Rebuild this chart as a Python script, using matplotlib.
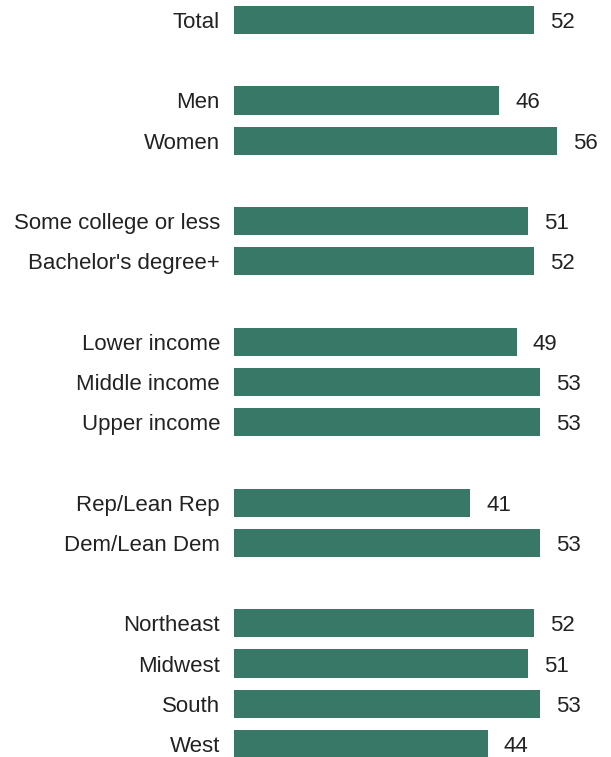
import matplotlib
matplotlib.use("Agg")
import matplotlib.pyplot as plt

categories = ["Total", "Men", "Women", "Some college or less", "Bachelor's degree+",
              "Lower income", "Middle income", "Upper income",
              "Rep/Lean Rep", "Dem/Lean Dem",
              "Northeast", "Midwest", "South", "West"]
values = [52, 46, 56, 51, 52, 49, 53, 53, 41, 53, 52, 51, 53, 44]
rows = [0, 2, 3, 5, 6, 8, 9, 10, 12, 13, 15, 16, 17, 18]

plt.rcParams['font.family'] = ['Liberation Sans', 'DejaVu Sans']

W, H = 611, 757
fig = plt.figure(figsize=(W / 100, H / 100), dpi=100)
left_px = 233.5
ax = fig.add_axes([left_px / W, 0, 1 - left_px / W, 1])

px_per_unit = 300.5 / 52
row_px = 40.22
top_row_px = 20
ax.set_xlim(0, (W - left_px) / px_per_unit)
ax.set_ylim((H - top_row_px) / row_px, -top_row_px / row_px)

color = "#387866"
base_off = 8.0 / row_px
ax.barh(rows, values, height=0.70, color=color)
for r, v, c in zip(rows, values, categories):
    ax.text(v + 16 / px_per_unit, r + base_off, str(v), va="baseline", ha="left", fontsize=16, color="#222222")
    ax.text(-13.5 / px_per_unit, r + base_off, c, va="baseline", ha="right", fontsize=16, color="#222222", clip_on=False)

ax.axis("off")
fig.savefig("out.png", dpi=100)
